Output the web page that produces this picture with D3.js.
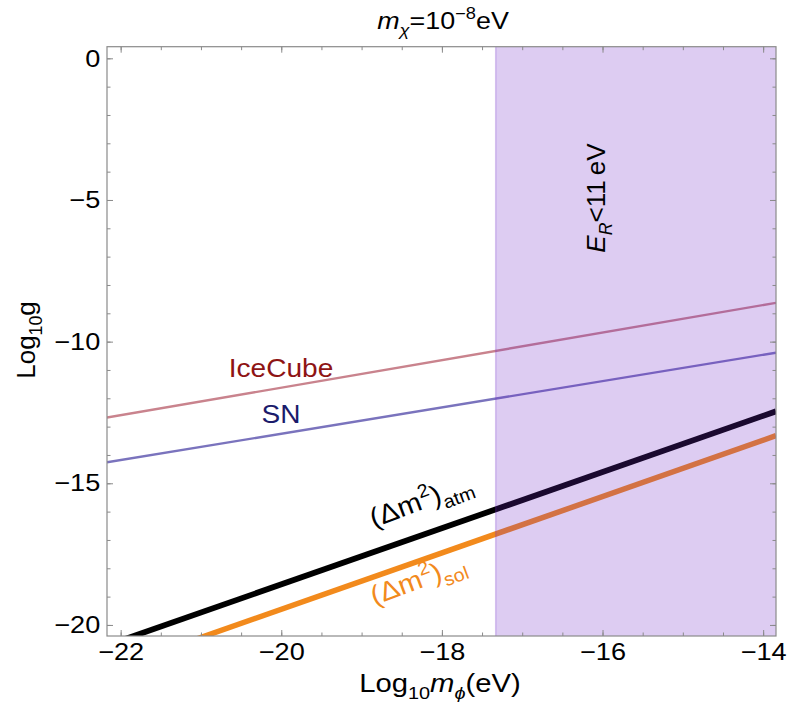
<!DOCTYPE html>
<html><head><meta charset="utf-8">
<script src="https://cdn.jsdelivr.net/npm/d3@7"></script>
<style>body{margin:0;background:#fff}text{font-family:"Liberation Sans",Arial,Helvetica,sans-serif}</style>
</head><body><svg id="c" width="796" height="703"></svg>
<script>
// ---- data ----
const xDomain = [-22.17, -13.84];
const yDomain = [-20.39, 0.41];
const xMajorTicks = [-22, -20, -18, -16, -14];
const yMajorTicks = [0, -5, -10, -15, -20];
const xTickLabels = ["\u221222", "\u221220", "\u221218", "\u221216", "\u221214"];
const yTickLabels = ["0", "\u22125", "\u221210", "\u221215", "\u221220"];
const regionX = [-17.33, -13.84];
const iceCubeX = [-22.17, -13.84], iceCubeY = [-12.68, -8.63];
const snX = [-22.17, -13.84], snY = [-14.26, -10.39];
const atmX = [-22.17, -13.84], atmY = [-20.72, -12.46];
const solX = [-21.2, -13.84], solY = [-20.64, -13.32];

// ---- layout ----
const L = 107, R = 776, T = 46.7, B = 636;
const svg = d3.select("#c");
const x = d3.scaleLinear().domain(xDomain).range([L, R]);
const y = d3.scaleLinear().domain(yDomain).range([B, T]);
const xMinor = d3.range(-22, -13.9, 0.5);
const yMinor = d3.range(0, -20.5, -1);

svg.append("defs").append("clipPath").attr("id", "clip")
  .append("rect").attr("x", L).attr("y", T).attr("width", R - L).attr("height", B - T);

const plot = svg.append("g").attr("clip-path", "url(#clip)");
function drawLine(xs, ys, color, w) {
  const pts = xs.map((v, i) => [v, ys[i]]);
  plot.append("path").datum(pts)
    .attr("d", d3.line().x(d => x(d[0])).y(d => y(d[1])))
    .attr("fill", "none").attr("stroke", color).attr("stroke-width", w);
}
drawLine(iceCubeX, iceCubeY, "#c9838d", 2.4);
drawLine(snX, snY, "#7a73bd", 2.4);
drawLine(atmX, atmY, "#000", 5.8);
drawLine(solX, solY, "#f28a1c", 5.5);

// region overlay
plot.append("rect")
  .attr("x", x(regionX[0])).attr("y", T)
  .attr("width", x(regionX[1]) - x(regionX[0])).attr("height", B - T)
  .attr("fill", "rgb(110,40,200)").attr("fill-opacity", 0.235);
plot.append("line")
  .attr("x1", x(regionX[0])).attr("x2", x(regionX[0]))
  .attr("y1", T).attr("y2", B)
  .attr("stroke", "rgb(110,40,200)").attr("stroke-opacity", 0.25).attr("stroke-width", 1.5);

// ---- axes ----
const tickCol = "#8a8a8a";
function styleAxis(g) {
  g.select(".domain").remove();
  g.selectAll("line").attr("stroke", tickCol);
}
const sx = 1.13;
// bottom
svg.append("g").attr("transform", `translate(0,${B})`)
  .call(d3.axisBottom(x).tickValues(xMinor).tickSize(-3.5).tickFormat(""))
  .call(styleAxis);
svg.append("g").attr("transform", `translate(0,${B})`)
  .call(d3.axisBottom(x).tickValues(xMajorTicks).tickSize(-6).tickPadding(7)
        .tickFormat((d, i) => xTickLabels[i]))
  .call(styleAxis)
  .call(g => g.selectAll("text").attr("fill", "#000").attr("font-size", 24)
        .attr("font-family", '"Liberation Sans",Arial,sans-serif')
        .attr("transform", `scale(${sx},1)`));
// top
svg.append("g").attr("transform", `translate(0,${T})`)
  .call(d3.axisTop(x).tickValues(xMinor).tickSize(-3.5).tickFormat("")).call(styleAxis);
svg.append("g").attr("transform", `translate(0,${T})`)
  .call(d3.axisTop(x).tickValues(xMajorTicks).tickSize(-6).tickFormat("")).call(styleAxis);
// left
svg.append("g").attr("transform", `translate(${L},0)`)
  .call(d3.axisLeft(y).tickValues(yMinor).tickSize(-3.5).tickFormat("")).call(styleAxis);
svg.append("g").attr("transform", `translate(${L},0)`)
  .call(d3.axisLeft(y).tickValues(yMajorTicks).tickSize(-6).tickPadding(6)
        .tickFormat((d, i) => yTickLabels[i]))
  .call(styleAxis)
  .call(g => g.selectAll("text").attr("fill", "#000").attr("font-size", 24)
        .attr("font-family", '"Liberation Sans",Arial,sans-serif')
        .attr("transform", `scale(${sx},1)`));
// right
svg.append("g").attr("transform", `translate(${R},0)`)
  .call(d3.axisRight(y).tickValues(yMinor).tickSize(-3.5).tickFormat("")).call(styleAxis);
svg.append("g").attr("transform", `translate(${R},0)`)
  .call(d3.axisRight(y).tickValues(yMajorTicks).tickSize(-6).tickFormat("")).call(styleAxis);
// frame
svg.append("rect").attr("x", L).attr("y", T).attr("width", R - L).attr("height", B - T)
  .attr("fill", "none").attr("stroke", tickCol).attr("stroke-width", 1.2);

// ---- rich text helper ----
function rich(px, py, rot, scaleX, size, color, parts, anchor) {
  const g = svg.append("g").attr("transform", `translate(${px},${py}) rotate(${rot}) scale(${scaleX},1)`);
  const t = g.append("text").attr("font-size", size).attr("fill", color)
    .attr("text-anchor", anchor || "middle");
  let shift = 0;
  parts.forEach(p => {
    const s = t.append("tspan").text(p.t);
    let target = 0;
    if (p.sub) { target = size * 0.28; s.attr("font-size", size * 0.68); }
    if (p.sup) { target = -size * 0.42; s.attr("font-size", size * 0.68); }
    if (target !== shift) { s.attr("dy", target - shift); shift = target; }
    if (p.it) s.attr("font-style", "italic");
  });
  return t;
}

// title
rich(443, 29, 0, 1.12, 24, "#000",
  [{t: "m", it: 1}, {t: "\u03c7", it: 1, sub: 1}, {t: "=10"}, {t: "\u22128", sup: 1}, {t: "eV"}]);
// x label
rich(440, 692, 0, 1.17, 25, "#000",
  [{t: "Log"}, {t: "10", sub: 1}, {t: "m", it: 1}, {t: "\u03d5", it: 1, sub: 1}, {t: "(eV)"}]);
// y label
rich(35, 340, -90, 1, 26, "#000", [{t: "Log"}, {t: "10", sub: 1}, {t: "g"}]);
// region label
rich(605, 198, -90, 1, 26, "#000",
  [{t: "E", it: 1}, {t: "R", it: 1, sub: 1}, {t: "<11\u2009eV"}]);
// line labels
rich(281, 377, 0, 1.08, 26, "#8e1414", [{t: "IceCube"}]);
rich(281, 423, 0, 1.08, 26, "#1b1b6b", [{t: "SN"}]);
rich(424, 509, -20.5, 1.08, 27, "#000",
  [{t: "(\u0394m"}, {t: "2", sup: 1}, {t: ")"}, {t: "atm", sub: 1}]);
rich(421, 588, -20.5, 1.08, 27, "#f28a1c",
  [{t: "(\u0394m"}, {t: "2", sup: 1}, {t: ")"}, {t: "sol", sub: 1}]);
</script></body></html>
